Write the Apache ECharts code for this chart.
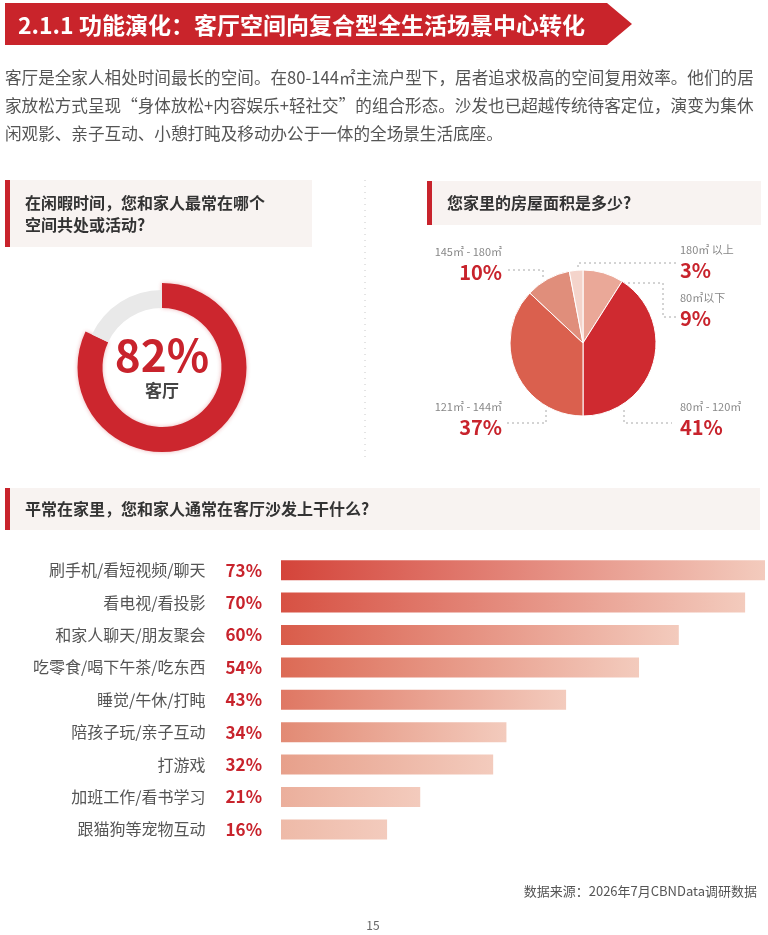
<!DOCTYPE html>
<html>
<head>
<meta charset="utf-8">
<script src="https://cdn.jsdelivr.net/npm/echarts@6/dist/echarts.min.js"></script>
<style>
html, body { margin: 0; padding: 0; background: #fff; }
#main { width: 768px; height: 935px; }
</style>
</head>
<body>
<div id="main"></div>
<script>
var FONT = '"Noto Sans CJK SC", "Noto Sans", sans-serif';
var RED = '#c8232c';

// 闲暇时间共处空间
var spaceName = '客厅';
var spaceShare = 82;

// 房屋面积
var areaNames = ['80㎡以下', '80㎡ - 120㎡', '121㎡ - 144㎡', '145㎡ - 180㎡', '180㎡ 以上'];
var areaValues = [9, 41, 37, 10, 3];
var areaColors = ['#eaa898', '#cf2a30', '#da604e', '#e08e7b', '#f4d4cb'];

// 客厅沙发上做什么
var actNames = ['刷手机/看短视频/聊天', '看电视/看投影', '和家人聊天/朋友聚会', '吃零食/喝下午茶/吃东西',
    '睡觉/午休/打盹', '陪孩子玩/亲子互动', '打游戏', '加班工作/看书学习', '跟猫狗等宠物互动'];
var actValues = [73, 70, 60, 54, 43, 34, 32, 21, 16];
var actColors = ['#d4443a', '#d75143', '#d95c4a', '#dc6a55', '#df7763', '#e28a74', '#e7a08b', '#ebaf9c', '#eebaa8'];

var paraLines = [
    '客厅是全家人相处时间最长的空间。在80-144㎡主流户型下，居者追求极高的空间复用效率。他们的居',
    '家放松方式呈现“身体放松+内容娱乐+轻社交”的组合形态。沙发也已超越传统待客定位，演变为集休',
    '闲观影、亲子互动、小憩打盹及移动办公于一体的全场景生活底座。'
];

// pie centre and label placement (relative to centre)
var pc = [583, 343];
var labelPos = [
    { x: 97, y: -53, align: 'left', line: [[40, -60], [80, -60], [80, -26], [94, -26]] },
    { x: 97, y: 56, align: 'left', line: [[41, 67], [41, 80], [89, 80]] },
    { x: -81, y: 56, align: 'right', line: [[-37, 67], [-37, 80], [-76, 80]] },
    { x: -81, y: -99, align: 'right', line: [[-40, -66], [-40, -73], [-75, -73]] },
    { x: 97, y: -101, align: 'left', line: [[-5, -71], [-5, -80], [93, -80]] }
];

function titleBox(x, y, w, h, text, lh) {
    return [
        { type: 'rect', shape: { x: x, y: y, width: w, height: h }, style: { fill: '#f8f3f1' } },
        { type: 'rect', shape: { x: x, y: y, width: 5, height: h }, style: { fill: RED } },
        { type: 'text', x: x + 20, y: y + h / 2, style: { text: text, font: 'bold 16px ' + FONT, fill: '#333', verticalAlign: 'middle', lineHeight: lh || 22 } }
    ];
}

var graphics = [
    { type: 'polygon', shape: { points: [[5, 3], [607, 3], [632, 24], [607, 45], [5, 45]] }, style: { fill: '#c9242b' } },
    { type: 'text', x: 18, y: 25, style: { text: '2.1.1 功能演化：客厅空间向复合型全生活场景中心转化', font: 'bold 23px ' + FONT, fill: '#fff', verticalAlign: 'middle' } },
    { type: 'text', x: 5, y: 64, style: { text: paraLines.join('\n'), font: '16.6px ' + FONT, fill: '#555', lineHeight: 28 } },
    { type: 'line', shape: { x1: 365, y1: 180, x2: 365, y2: 457 }, style: { stroke: '#c8c8c8', lineWidth: 1, lineDash: [1, 5] } },
    { type: 'text', x: 757, y: 891, style: { text: '数据来源：2026年7月CBNData调研数据', font: '13px ' + FONT, fill: '#555', align: 'right', verticalAlign: 'middle' } },
    { type: 'text', x: 373, y: 925, style: { text: '15', font: '12px ' + FONT, fill: '#666', align: 'center', verticalAlign: 'middle' } }
];
graphics = graphics
    .concat(titleBox(5, 180, 307, 67, '在闲暇时间，您和家人最常在哪个\n空间共处或活动?', 22))
    .concat(titleBox(427, 181, 334, 44, '您家里的房屋面积是多少?'))
    .concat(titleBox(5, 488, 755, 42, '平常在家里，您和家人通常在客厅沙发上干什么?'));

var option = {
    animation: false,
    textStyle: { fontFamily: FONT },
    graphic: graphics,
    grid: { left: 281, right: 3, top: 554, height: 291.6 },
    xAxis: { type: 'value', min: 0, max: 73, show: false },
    yAxis: {
        type: 'category',
        inverse: true,
        data: actNames,
        axisLine: { show: false },
        axisTick: { show: false },
        splitLine: { show: false },
        axisLabel: {
            margin: 19,
            formatter: function (v, i) {
                return '{n|' + v + '}{p|' + actValues[i] + '%}';
            },
            rich: {
                n: { fontSize: 16, color: '#555', fontFamily: FONT },
                p: { fontSize: 17, fontWeight: 'bold', color: RED, fontFamily: FONT, padding: [0, 0, 0, 20] }
            }
        }
    },
    series: [
        {
            type: 'bar',
            barWidth: 20,
            silent: true,
            data: actValues.map(function (v, i) {
                return {
                    value: v,
                    itemStyle: {
                        color: new echarts.graphic.LinearGradient(0, 0, 1, 0, [
                            { offset: 0, color: actColors[i] },
                            { offset: 1, color: '#f3cbbd' }
                        ])
                    }
                };
            })
        },
        {
            type: 'pie',
            center: [162, 367.5],
            radius: [59.5, 84.5],
            startAngle: 90,
            silent: true,
            label: { show: false },
            labelLine: { show: false },
            data: [
                {
                    value: spaceShare, name: spaceName,
                    itemStyle: { color: '#cc262e', shadowBlur: 4, shadowColor: 'rgba(200,35,44,0.35)' },
                    label: {
                        show: true, position: 'center',
                        formatter: '{v|' + spaceShare + '%}\n{n|' + spaceName + '}',
                        rich: {
                            v: { fontSize: 44, fontWeight: 'bold', color: RED, fontFamily: FONT, lineHeight: 46 },
                            n: { fontSize: 17, fontWeight: 'bold', color: '#444', fontFamily: FONT, lineHeight: 24 }
                        }
                    }
                },
                { value: 100 - spaceShare, name: '其他', itemStyle: { color: 'transparent' } }
            ]
        },
        {
            type: 'pie',
            center: [162, 367.5],
            radius: [59.5, 77.5],
            startAngle: 90,
            silent: true,
            label: { show: false },
            labelLine: { show: false },
            data: [
                { value: spaceShare, name: spaceName, itemStyle: { color: 'transparent' } },
                { value: 100 - spaceShare, name: '其他', itemStyle: { color: '#e9e9e9' } }
            ]
        },
        {
            type: 'pie',
            center: pc,
            radius: [0, 73],
            startAngle: 90,
            silent: true,
            avoidLabelOverlap: false,
            itemStyle: { borderColor: '#fff', borderWidth: 1 },
            label: {
                show: true,
                position: 'outside',
                formatter: function (p) { return '{n|' + p.name + '}\n{v|' + p.value + '%}'; },
                rich: {
                    n: { fontSize: 11, color: '#888', fontFamily: FONT, lineHeight: 16 },
                    v: { fontSize: 20, fontWeight: 'bold', color: RED, fontFamily: FONT, lineHeight: 24 }
                }
            },
            labelLine: { show: true, length: 10, length2: 10, lineStyle: { color: '#a8a8a8', width: 1, type: [2, 3] } },
            labelLayout: function (params) {
                var lp = labelPos[params.dataIndex];
                return {
                    x: pc[0] + lp.x,
                    y: pc[1] + lp.y,
                    align: lp.align,
                    verticalAlign: 'top',
                    labelLinePoints: lp.line.map(function (pt) { return [pc[0] + pt[0], pc[1] + pt[1]]; })
                };
            },
            data: areaValues.map(function (v, i) {
                return { value: v, name: areaNames[i], itemStyle: { color: areaColors[i] } };
            })
        }
    ]
};

echarts.init(document.getElementById('main')).setOption(option);
</script>
</body>
</html>
